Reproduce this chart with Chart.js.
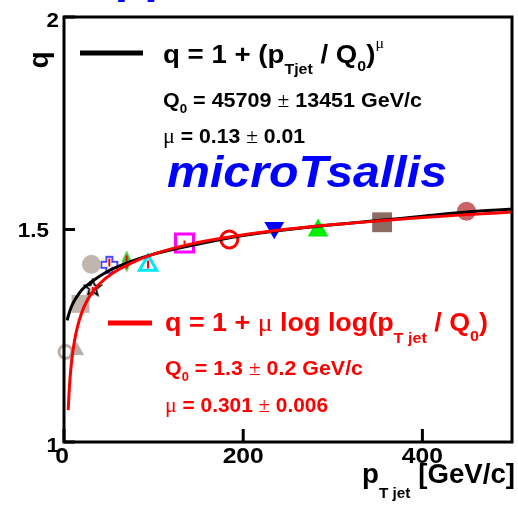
<!DOCTYPE html>
<html>
<head>
<meta charset="utf-8">
<script src="https://cdn.jsdelivr.net/npm/chart.js@4.4.1/dist/chart.umd.min.js"></script>
<style>
  html, body { margin: 0; padding: 0; background: #fff; }
  #wrap { width: 518px; height: 505px; }
</style>
</head>
<body>
<div id="wrap"><canvas id="qplot" width="518" height="505"></canvas></div>
<script>
// measured points: p_T jet [GeV/c] and q
const pointPt = [1.7, 14, 18.4, 30.6, 32, 50.6, 69.9, 93.8, 134.5, 184.5, 234.7, 283.6, 355, 449.2];
const pointQ  = [1.212, 1.215, 1.325, 1.418, 1.362, 1.417, 1.425, 1.416, 1.468, 1.4765, 1.504, 1.4975, 1.517, 1.543];

// red error bars on some of the points
const errPt = [32, 50.6, 69.9, 93.8, 134.5];
const errLo = [1.345, 1.413, 1.408, 1.408, 1.466];
const errHi = [1.365, 1.432, 1.439, 1.427, 1.474];

// power-law fit curve
const powPt = [3.5, 5, 8, 12, 20, 30, 50, 75, 100, 150, 200, 250, 300, 350, 400, 450, 500];
const powQ  = [1.286, 1.298, 1.317, 1.334, 1.358, 1.376, 1.403, 1.425, 1.442, 1.466, 1.486, 1.500, 1.511, 1.521, 1.531, 1.541, 1.548];

// log-log fit curve
const logPt = [4.7, 5.5, 6.5, 8, 10, 13, 17, 22, 30, 40, 55, 75, 100, 140, 190, 250, 320, 400, 450, 500];
const logQ  = [1.075, 1.110, 1.143, 1.180, 1.215, 1.252, 1.286, 1.316, 1.348, 1.373, 1.398, 1.421, 1.442, 1.465, 1.484, 1.501, 1.515, 1.528, 1.535, 1.541];

const xTicks = [0, 200, 400];
const yTicks = [1, 1.5, 2];
const yTickLabels = ['1', '1.5', '2'];

const B = n => `bold ${n}px "Liberation Sans", Arial, sans-serif`;
const S = n => `${n}px "Liberation Serif", serif`;
const BI = n => `italic bold ${n}px "Liberation Sans", Arial, sans-serif`;

function markerCanvas(w, h, draw) {
    const c = document.createElement('canvas');
    c.width = w; c.height = h;
    draw(c.getContext('2d'));
    return c;
}

const openCross = markerCanvas(20, 20, g => {
    const p = [[-3,-8],[3,-8],[3,-3],[8,-3],[8,3],[3,3],[3,8],[-3,8],[-3,3],[-8,3],[-8,-3],[-3,-3]];
    g.beginPath();
    p.forEach(([a, b], i) => i ? g.lineTo(10 + a, 10 + b) : g.moveTo(10 + a, 10 + b));
    g.closePath();
    g.strokeStyle = '#4a4aff'; g.lineWidth = 2; g.stroke();
});

const openStar = markerCanvas(20, 20, g => {
    g.beginPath();
    for (let i = 0; i < 10; i++) {
        const r = i % 2 ? 3.5 : 8.5;
        const t = -Math.PI / 2 + i * Math.PI / 5;
        const px = 10 + r * Math.cos(t), py = 10 + r * Math.sin(t);
        i ? g.lineTo(px, py) : g.moveTo(px, py);
    }
    g.closePath();
    g.strokeStyle = '#000'; g.lineWidth = 1.8; g.stroke();
});

const diamond = markerCanvas(12, 23, g => {
    g.beginPath();
    g.moveTo(6, 0.5); g.lineTo(11, 11.5); g.lineTo(6, 22.5); g.lineTo(1, 11.5);
    g.closePath();
    g.fillStyle = '#3cc83c'; g.fill();
});

// marker look for each measured point, same order as pointPt
const markerStyles = [
    { style: 'circle', r: 6.5, fill: 'rgba(0,0,0,0)', line: '#b9afa8', lw: 3 },
    { style: 'triangle', r: 8, fill: '#b9afa8', line: '#b9afa8', lw: 1 },
    { style: 'rect', r: 12.7, fill: '#c0b6ae', line: '#c0b6ae', lw: 0 },
    { style: 'circle', r: 9.5, fill: '#c0b6ae', line: '#c0b6ae', lw: 0 },
    { style: openStar, r: 8 },
    { style: openCross, r: 8 },
    { style: diamond, r: 8 },
    { style: 'triangle', r: 10, fill: 'rgba(0,0,0,0)', line: '#00e8ff', lw: 3 },
    { style: 'rect', r: 12.7, fill: 'rgba(0,0,0,0)', line: '#ff00ff', lw: 3 },
    { style: 'circle', r: 8.5, fill: 'rgba(0,0,0,0)', line: '#ff0000', lw: 3 },
    { style: 'triangle', r: 11.5, rot: 180, fill: '#0000ff', line: '#0000ff', lw: 0 },
    { style: 'triangle', r: 12, fill: '#00ee00', line: '#00ee00', lw: 0 },
    { style: 'rect', r: 14, fill: '#8c6b60', line: '#8c6b60', lw: 0 },
    { style: 'circle', r: 9.5, fill: '#c86468', line: '#c86468', lw: 0 }
];

const markerSets = pointPt.map((p, i) => {
    const m = markerStyles[i];
    return {
        data: [{ x: p, y: pointQ[i] }],
        pointStyle: m.style,
        pointRadius: m.r,
        pointRotation: m.rot || 0,
        backgroundColor: m.fill || '#000',
        borderColor: m.line || '#000',
        borderWidth: m.lw || 0,
        clip: false,
        order: 3
    };
});

const errData = [];
errPt.forEach((p, i) => {
    errData.push({ x: p, y: errLo[i] }, { x: p, y: errHi[i] }, { x: p, y: null });
});

const datasets = [
    {
        data: logPt.map((p, i) => ({ x: p, y: logQ[i] })),
        showLine: true, pointRadius: 0, borderColor: '#ff0000', borderWidth: 3,
        cubicInterpolationMode: 'monotone', order: 0
    },
    {
        data: powPt.map((p, i) => ({ x: p, y: powQ[i] })),
        showLine: true, pointRadius: 0, borderColor: '#000', borderWidth: 3,
        cubicInterpolationMode: 'monotone', order: 1
    },
    {
        data: errData, showLine: true, spanGaps: false, pointRadius: 0,
        borderColor: '#ff0000', borderWidth: 2, order: 2
    },
    ...markerSets
];

// text in pieces: [string, font, baseline shift]; squeezed/stretched to a width
function richText(ctx, x, y, parts, width, color) {
    let natural = 0;
    parts.forEach(p => { ctx.font = p[1]; natural += ctx.measureText(p[0]).width; });
    const sx = width ? width / natural : 1;
    ctx.save();
    ctx.fillStyle = color;
    ctx.textAlign = 'left';
    ctx.textBaseline = 'alphabetic';
    ctx.translate(x, y);
    ctx.scale(sx, 1);
    let cx = 0;
    parts.forEach(p => {
        ctx.font = p[1];
        ctx.fillText(p[0], cx, p[2] || 0);
        cx += ctx.measureText(p[0]).width;
    });
    ctx.restore();
    return sx;
}

function seg(ctx, x1, y1, x2, y2) {
    ctx.beginPath(); ctx.moveTo(x1, y1); ctx.lineTo(x2, y2); ctx.stroke();
}

const framePlugin = {
    id: 'frame',
    afterDraw(chart) {
        const { ctx, chartArea: a } = chart;
        const xs = chart.scales.x, ys = chart.scales.y;
        ctx.save();
        ctx.strokeStyle = '#000';
        ctx.lineWidth = 3;
        ctx.strokeRect(a.left, a.top, a.right - a.left, a.bottom - a.top);

        // inward tick marks
        xTicks.forEach(v => { const px = xs.getPixelForValue(v); seg(ctx, px, a.bottom, px, a.bottom - 13); });
        yTicks.forEach(v => { const py = ys.getPixelForValue(v); seg(ctx, a.left, py, a.left + 11, py); });

        // tick labels
        ctx.fillStyle = '#000';
        ctx.font = B(22);
        ctx.textAlign = 'center';
        ctx.textBaseline = 'alphabetic';
        xTicks.forEach(v => {
            const px = xs.getPixelForValue(v);
            ctx.save(); ctx.translate(px - (v === 0 ? 2 : 0), 463); ctx.scale(1.12, 1);
            ctx.fillText(String(v), 0, 0); ctx.restore();
        });
        ctx.font = B(20);
        ctx.textAlign = 'right';
        yTicks.forEach((v, i) => {
            const py = ys.getPixelForValue(v);
            const end = i === 0 || i === yTicks.length - 1;
            ctx.save(); ctx.translate(end ? 59 : 49, py + (end ? 3 : 0) + 7); ctx.scale(1.12, 1);
            ctx.fillText(yTickLabels[i], 0, 0); ctx.restore();
        });

        // axis titles
        ctx.save();
        ctx.translate(40, 60);
        ctx.rotate(-Math.PI / 2);
        ctx.font = B(28);
        ctx.textAlign = 'center';
        ctx.textBaseline = 'middle';
        ctx.fillText('q', 0, 0);
        ctx.restore();
        richText(ctx, 362, 483, [['p', B(27)], ['T jet', B(15), 15], [' [GeV/c]', B(27)]], 153, '#000');

        // legend entries
        ctx.lineWidth = 5;
        ctx.strokeStyle = '#000';
        seg(ctx, 80, 53, 143, 53);
        ctx.strokeStyle = '#ff0000';
        seg(ctx, 108, 323, 152, 323);

        richText(ctx, 163, 63, [['q = 1 + (', B(26)], ['p', B(26)], ['Tjet', B(15), 11], [' / Q', B(26)],
            ['0', B(15), 8], [')', B(26)], ['\u03bc', S(15), -15]], 221, '#000');
        richText(ctx, 163, 107, [['Q', B(21)], ['0', B(13), 6], [' = 45709 ', B(21)], ['\u00b1', S(21)],
            [' 13451 GeV/c', B(21)]], 259, '#000');
        richText(ctx, 163, 143, [['\u03bc', S(22)], [' = 0.13 ', B(21)], ['\u00b1', S(21)], [' 0.01', B(21)]], 142, '#000');

        const sx = richText(ctx, 167, 187, [['microTsallis', BI(44)]], 280, '#0000ff');
        ctx.save();
        ctx.font = BI(44);
        const ppw = ctx.measureText('pp').width * sx;
        ctx.restore();
        richText(ctx, 119, -7, [['pp', BI(44)]], ppw, '#0000ff');

        richText(ctx, 165, 331, [['q = 1 + ', B(25)], ['\u03bc', S(26)], [' log log(p', B(25)], ['T jet', B(15), 12],
            [' / Q', B(25)], ['0', B(15), 10], [')', B(25)]], 323, '#ff0000');
        richText(ctx, 165, 375, [['Q', B(20)], ['0', B(12), 6], [' = 1.3 ', B(20)], ['\u00b1', S(20)],
            [' 0.2 GeV/c', B(20)]], 198, '#ff0000');
        richText(ctx, 165, 412, [['\u03bc', S(21)], [' = 0.301 ', B(20)], ['\u00b1', S(20)], [' 0.006', B(20)]], 163, '#ff0000');
        ctx.restore();
    }
};

new Chart(document.getElementById('qplot'), {
    type: 'scatter',
    data: { datasets },
    options: {
        responsive: false,
        animation: false,
        layout: { autoPadding: false, padding: { left: 64, top: 17, right: 6, bottom: 63 } },
        plugins: { legend: { display: false }, tooltip: { enabled: false } },
        scales: {
            x: { type: 'linear', min: 0, max: 500, display: false },
            y: { type: 'linear', min: 1, max: 2, display: false }
        }
    },
    plugins: [framePlugin]
});
</script>
</body>
</html>
